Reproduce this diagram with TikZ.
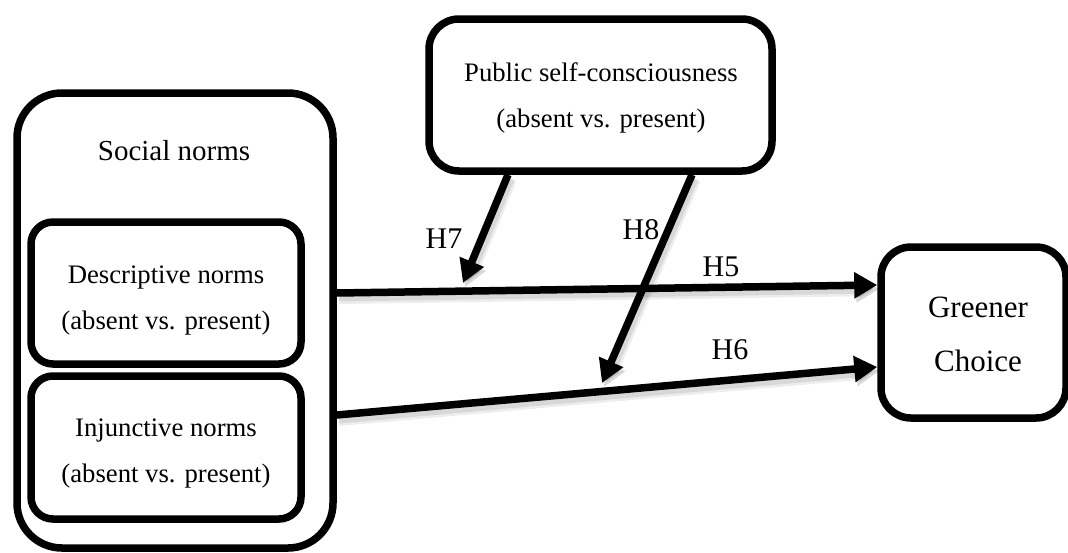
\documentclass[tikz,border=0pt]{standalone}
\usepackage{fontspec}
\setmainfont{Liberation Serif}
\usetikzlibrary{arrows.meta}
\begin{document}
\begin{tikzpicture}[x=1pt,y=-1pt,
  every node/.style={inner sep=0pt},
  box/.style={draw, line width=7.5pt, fill=white, rounded corners=#1},
  box/.default=22pt,
  lbl/.style={align=center, font=\fontsize{26.7}{46}\selectfont},
  hyp/.style={font=\fontsize{30}{36}\selectfont},
  arr/.style={line width=7.5pt, -{Triangle[length=23pt,width=25pt]},
    preaction={draw=black, opacity=0.07, line width=14pt,
      transform canvas={shift={(2pt,-4pt)}}},
    preaction={draw=black, opacity=0.09, line width=9pt,
      transform canvas={shift={(2pt,-4pt)}}}}]
\clip (0,0) rectangle (1068,552);

% outer group and its two inner boxes
\node[box=45pt, minimum width=316pt, minimum height=455pt] (soc) at (175,320.5) {};
\node[box, minimum width=270pt, minimum height=142pt] (desc) at (166,293) {};
\node[box, minimum width=270pt, minimum height=143pt] (inj) at (166,447.5) {};

% moderator and outcome
\node[box=30pt, minimum width=343pt, minimum height=152pt] (pub) at (600.5,95) {};
\node[box=30pt, minimum width=185pt, minimum height=171pt] (green) at (973.5,332.5) {};

% texts
\node[font=\fontsize{29}{34}\selectfont] (socT) at (174,151) {Social norms};
\node[lbl] (descT) at (166,300) {Descriptive norms\\(absent vs. present)};
\node[lbl] (injT) at (166,453) {Injunctive norms\\(absent vs. present)};
\node[lbl] (pubT) at (601,98) {Public self-consciousness\\(absent vs. present)};
\node[align=center, font=\fontsize{31}{54}\selectfont] (greenT) at (978,334) {Greener\\Choice};

% arrow tips of the moderating paths
\coordinate (t7) at (463,283);
\coordinate (t8) at (602,383);

% main effects
\draw[arr] ([yshift=27.5pt]soc.east) -- ([yshift=47.5pt]green.west);
\draw[arr] ([yshift=-94.5pt]soc.east) -- ([yshift=-34.5pt]green.west);
% moderation
\draw[arr] ([xshift=-92.5pt]pub.south) -- (t7);
\draw[arr] ([xshift=91.5pt]pub.south) -- (t8);

% hypothesis labels
\node[hyp] (h7) at (444,239) {H7};
\node[hyp] (h8) at (641,230) {H8};
\node[hyp] (h5) at (721,267) {H5};
\node[hyp] (h6) at (730,350) {H6};
\end{tikzpicture}
\end{document}
